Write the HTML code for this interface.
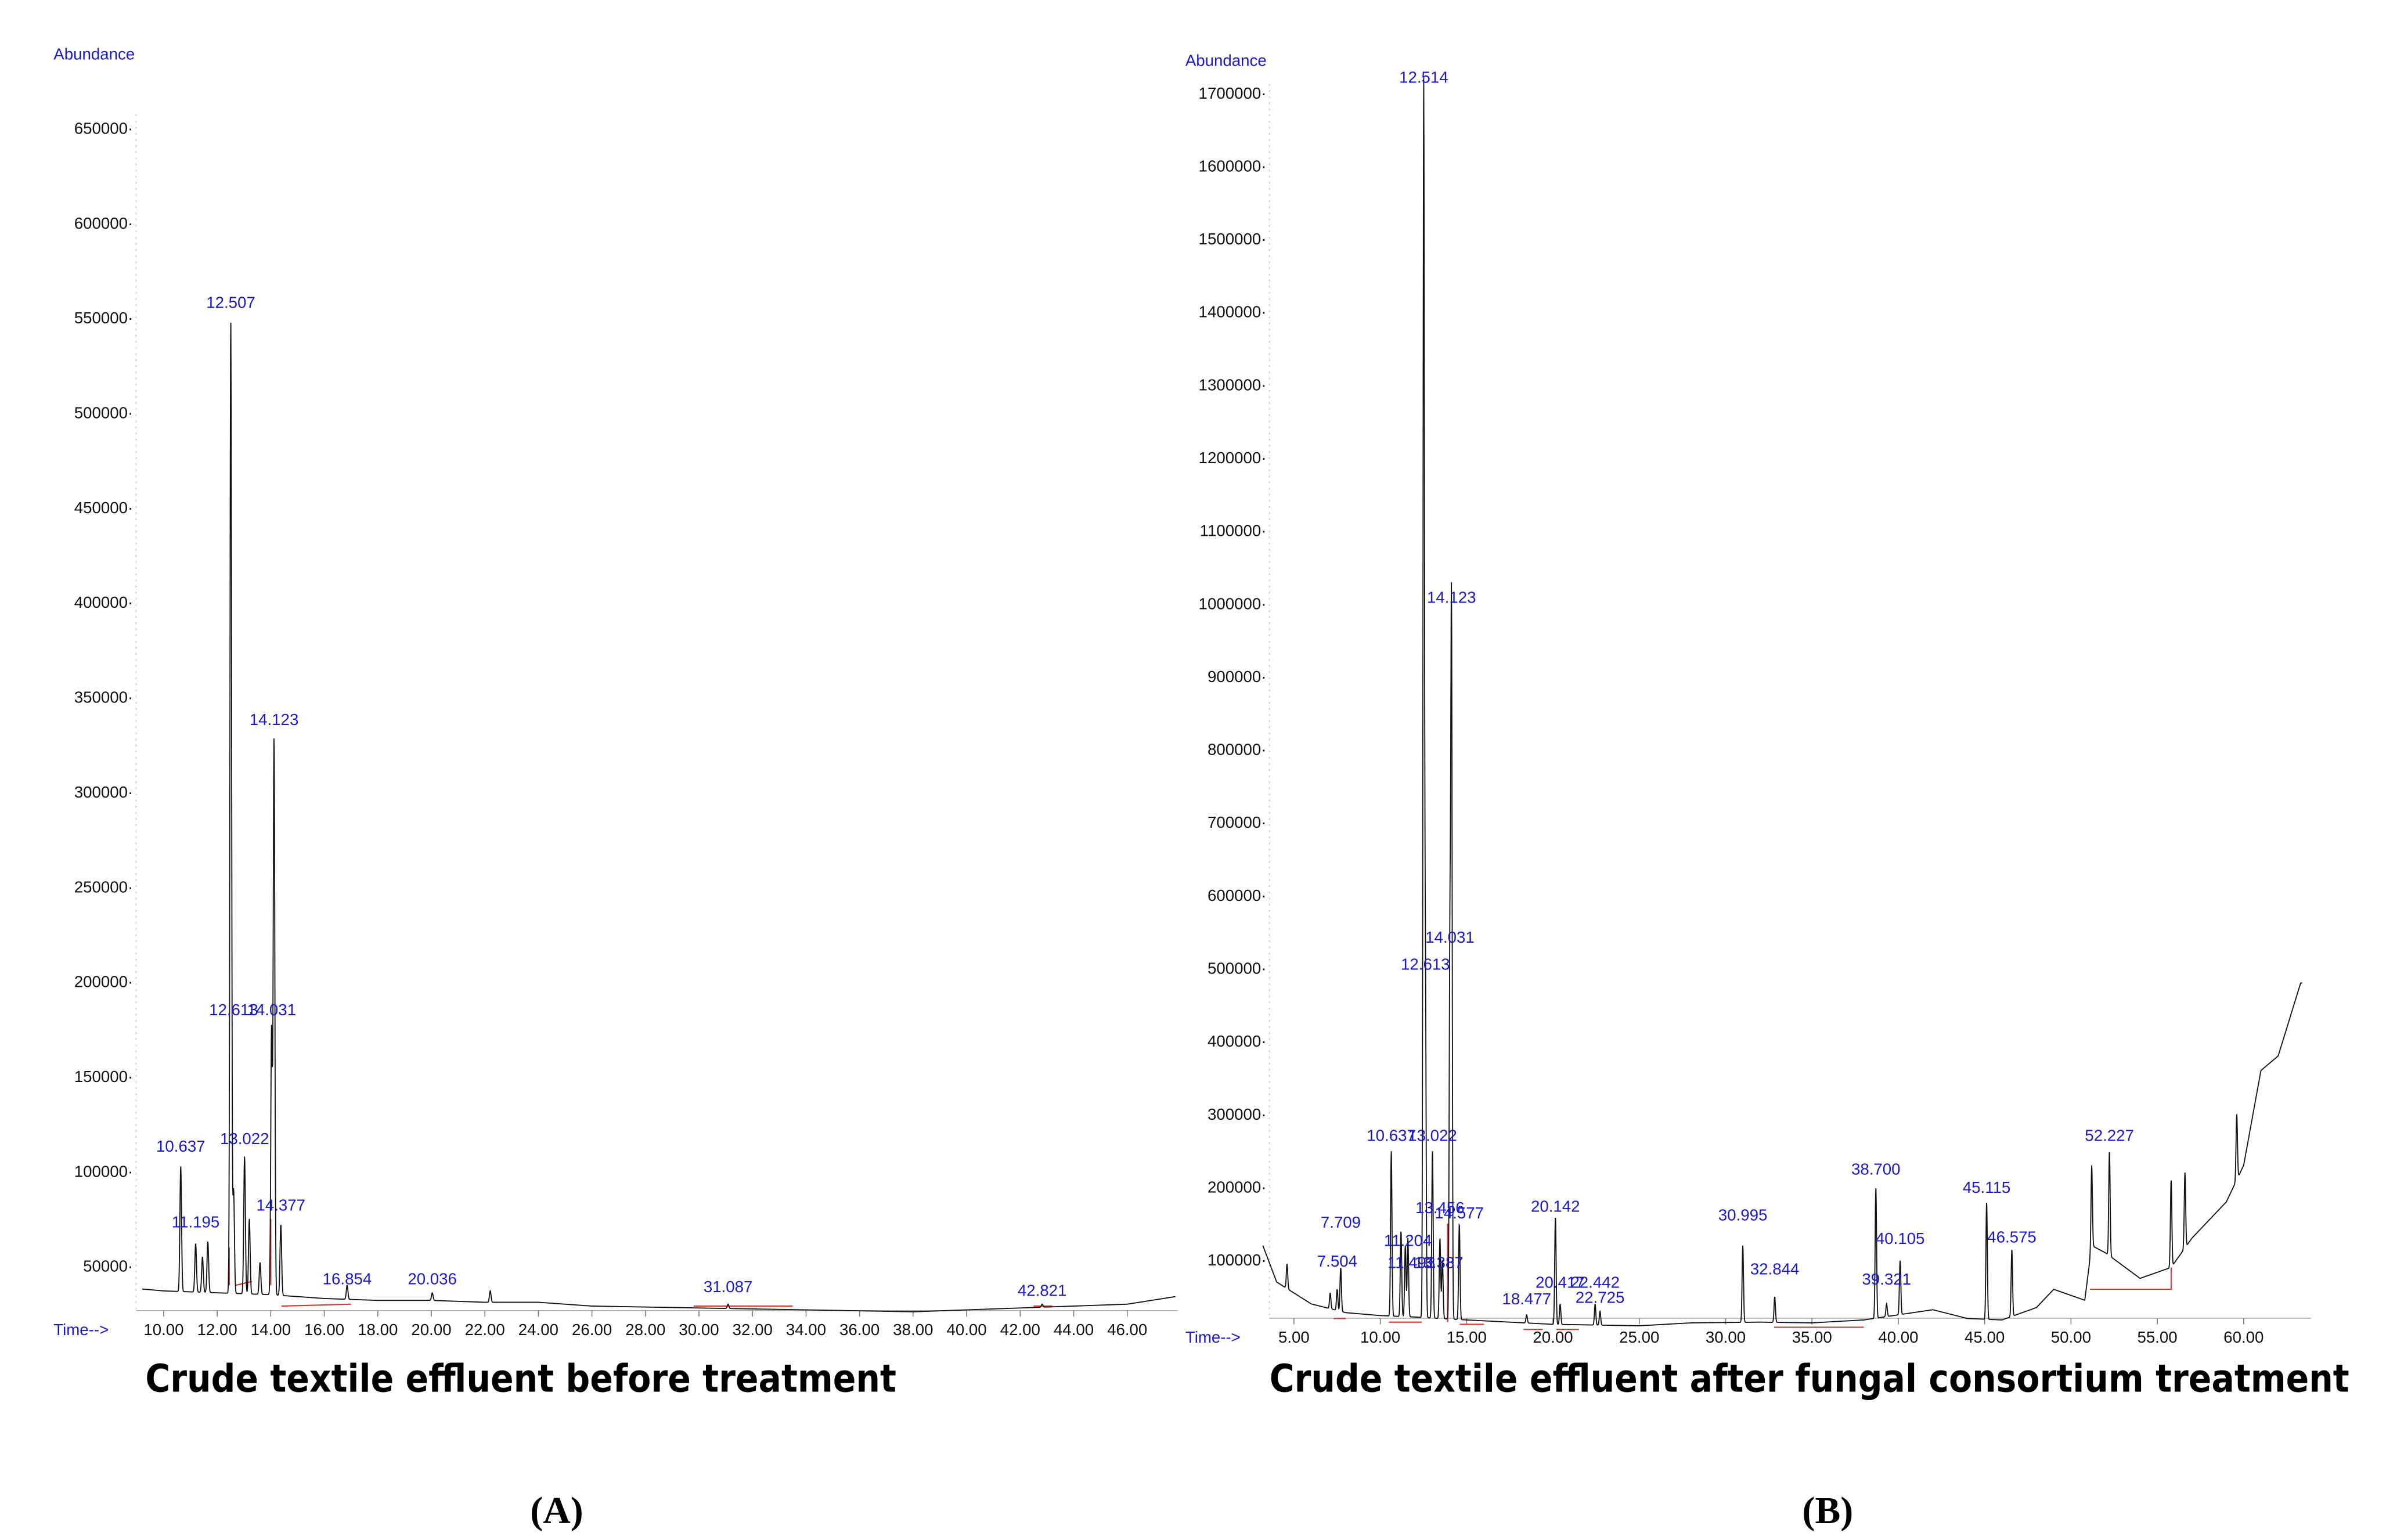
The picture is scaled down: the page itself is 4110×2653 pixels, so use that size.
<!DOCTYPE html>
<html><head><meta charset="utf-8"><style>
html,body{margin:0;padding:0;background:#fff;}
svg{display:block;}
.tick{font-family:"Liberation Sans",sans-serif;font-size:10.5px;fill:#111;}
.lab{font-family:"Liberation Sans",sans-serif;font-size:10.5px;fill:#1a1acc;}
.ttl{font-family:"DejaVu Sans","Liberation Sans",sans-serif;font-size:25px;font-weight:bold;fill:#000;}
.pan{font-family:"Liberation Serif",serif;font-size:25px;font-weight:bold;fill:#000;}
</style></head><body>
<svg id="fig" width="4110" height="2653" viewBox="0 0 1560 1007" xmlns="http://www.w3.org/2000/svg">
<g id="chartA"></g>
<g id="chartB"></g>
<text class="ttl" x="95" y="910" textLength="491" lengthAdjust="spacingAndGlyphs">Crude textile effluent before treatment</text>
<text class="ttl" x="830" y="910" textLength="706" lengthAdjust="spacingAndGlyphs">Crude textile effluent after fungal consortium treatment</text>
<text class="pan" x="364" y="996" text-anchor="middle">(A)</text>
<text class="pan" x="1195" y="996" text-anchor="middle">(B)</text>
</svg>
<script>
// ---- Chart A data ----
const aTicksX = [10,12,14,16,18,20,22,24,26,28,30,32,34,36,38,40,42,44,46];
const aTicksY = [50000,100000,150000,200000,250000,300000,350000,400000,450000,500000,550000,600000,650000];
const aBaseT = [9.2,10,12,14,16,18,20,22,24,26,30,34,38,42,46,47.8];
const aBaseV = [38000,37000,36000,35000,33000,32000,32000,31000,31000,29000,28000,27000,26000,28000,30000,34000];
const aPeakT = [10.637,11.195,11.45,11.65,12.507,12.613,13.022,13.2,13.6,14.031,14.123,14.377,16.854,20.036,22.2,31.087,42.821];
const aPeakV = [103000,62000,55000,63000,550000,90000,108000,75000,52000,175000,328000,72000,40000,36000,37000,30000,30000];
const aLabels = ["10.637","11.195","12.507","12.613","13.022","14.031","14.123","14.377","16.854","20.036","31.087","42.821"];
const aLabelT = [10.637,11.195,12.507,12.613,13.022,14.031,14.123,14.377,16.854,20.036,31.087,42.821];
const aLabelV = [108000,68000,553000,180000,112000,180000,333000,77000,38000,38000,34000,32000];
// ---- Chart B data ----
const bTicksX = [5,10,15,20,25,30,35,40,45,50,55,60];
const bTicksY = [100000,200000,300000,400000,500000,600000,700000,800000,900000,1000000,1100000,1200000,1300000,1400000,1500000,1600000,1700000];
const bBaseT = [3.2,4,5,6,8,10,12,15,20,25,28,32,35,38,40,42,44,46,48,49,50.8,51.2,52,54,55.8,57,59,60,61,62,63.3];
const bBaseV = [120000,70000,55000,40000,28000,24000,22000,18000,12000,10000,14000,15000,14000,18000,25000,32000,20000,18000,35000,60000,45000,120000,110000,75000,90000,130000,180000,230000,360000,380000,480000];
const bPeakT = [4.6,7.1,7.504,7.709,10.637,11.2,11.45,11.6,12.514,12.613,13.022,13.456,13.6,14.031,14.123,14.577,18.477,20.142,20.417,22.442,22.725,30.995,32.844,38.7,39.321,40.105,45.115,46.575,51.2,52.227,55.8,56.6,59.6];
const bPeakV = [95000,55000,60000,90000,250000,140000,120000,130000,1700000,480000,250000,130000,100000,520000,990000,150000,25000,160000,40000,40000,30000,120000,50000,200000,40000,100000,180000,115000,230000,250000,210000,220000,300000];
const bLabels = ["7.709","7.504","11.204","11.493","10.637","13.022","12.514","12.613","14.031","14.123","13.456","14.577","13.387","18.477","20.142","20.417","22.442","22.725","30.995","32.844","38.700","39.321","40.105","45.115","46.575","52.227"];
const bLabelT = [7.709,7.504,11.6,11.8,10.637,13.022,12.514,12.613,14.031,14.123,13.456,14.577,13.387,18.477,20.142,20.417,22.442,22.725,30.995,32.844,38.700,39.321,40.105,45.115,46.575,52.227];
const bLabelV = [138000,85000,113000,83000,257000,257000,1708000,492000,529000,995000,158000,151000,83000,33000,160000,56000,56000,35000,148000,74000,211000,60000,116000,186000,118000,257000];

const NS = "http://www.w3.org/2000/svg";
function mk(parent, tag, attrs){const e=document.createElementNS(NS,tag);for(const k in attrs)e.setAttribute(k,attrs[k]);parent.appendChild(e);return e;}
function interp(ts,vs,t){if(t<=ts[0])return vs[0];for(let i=1;i<ts.length;i++){if(t<=ts[i]){const f=(t-ts[i-1])/(ts[i]-ts[i-1]);return vs[i-1]+f*(vs[i]-vs[i-1]);}}return vs[vs.length-1];}

function draw(cfg){
  const g=document.getElementById(cfg.id);
  const X=t=>cfg.x0+(t-cfg.t0)*cfg.xs;
  const Y=v=>cfg.y0-(v-cfg.v0)*cfg.ys;
  let e=mk(g,'line',{x1:cfg.axX,y1:cfg.top,x2:cfg.axX,y2:cfg.axY,stroke:'#bbb','stroke-width':0.6,'stroke-dasharray':'1 3'});
  
  e=mk(g,'line',{x1:cfg.axX,y1:cfg.axY,x2:cfg.right,y2:cfg.axY,stroke:'#aaa','stroke-width':0.6});
  
  e=mk(g,'text',{x:cfg.abX,y:cfg.abY,class:'lab','font-size':9});e.textContent='Abundance';
  
  e=mk(g,'text',{x:cfg.tmX,y:cfg.axY+16,class:'lab','font-size':9.5});e.textContent='Time-->';
  
  cfg.ticksY.forEach(v=>{
    const t=mk(g,'text',{x:cfg.axX-2,y:Y(v)+3.5,class:'tick','text-anchor':'end'});t.textContent=v+'·';
    
  });
  cfg.ticksX.forEach(v=>{
    const t=mk(g,'text',{x:X(v),y:cfg.axY+16,class:'tick','text-anchor':'middle'});t.textContent=v.toFixed(2);
    
    const l=mk(g,'line',{x1:X(v),y1:cfg.axY,x2:X(v),y2:cfg.axY+4,stroke:'#777','stroke-width':0.6});
    
  });
  cfg.red.forEach(r=>{
    const p=mk(g,'polyline',{points:r.map(q=>X(q[0])+','+Y(q[1])).join(' '),fill:'none',stroke:'#e03030','stroke-width':0.8});
    
  });
  const pts=[];
  for(let t=cfg.tMin;t<=cfg.tMax;t+=cfg.step){
    let v=interp(cfg.baseT,cfg.baseV,t);
    for(let i=0;i<cfg.peakT.length;i++){const b=interp(cfg.baseT,cfg.baseV,cfg.peakT[i]);const h=cfg.peakV[i]-b;const d=(t-cfg.peakT[i])/cfg.sig;if(Math.abs(d)<6)v+=Math.max(h,0)*Math.exp(-d*d/2);}
    pts.push(X(t).toFixed(2)+','+Y(v).toFixed(2));
  }
  const path=mk(g,'polyline',{points:pts.join(' '),fill:'none',stroke:'#111','stroke-width':0.7});
  
  cfg.labels.forEach((s,i)=>{
    const t=mk(g,'text',{x:X(cfg.labelT[i]),y:Y(cfg.labelV[i])-3,class:'lab','text-anchor':'middle'});t.textContent=s;
    
  });
}
draw({id:'chartA',x0:107,t0:10,xs:17.5,y0:828,v0:50000,ys:62/50000,axX:89,axY:857,top:75,right:770,abX:35,abY:39,tmX:35,
  ticksX:aTicksX,ticksY:aTicksY,baseT:aBaseT,baseV:aBaseV,peakT:aPeakT,peakV:aPeakV,labels:aLabels,labelT:aLabelT,labelV:aLabelV,
  tMin:9.2,tMax:47.8,step:0.01,sig:0.03,
  red:[[[12.45,40000],[12.45,60000]],[[12.7,40000],[13.3,42000]],[[14.0,40000],[14.0,75000]],[[14.4,29000],[17.0,30000]],[[29.8,29000],[33.5,29000]],[[42.5,29000],[43.2,29000]]]});
draw({id:'chartB',x0:846,t0:5,xs:11.29,y0:824,v0:100000,ys:47.69/100000,axX:830,axY:862,top:55,right:1511,abX:775,abY:43,tmX:775,
  ticksX:bTicksX,ticksY:bTicksY,baseT:bBaseT,baseV:bBaseV,peakT:bPeakT,peakV:bPeakV,labels:bLabels,labelT:bLabelT,labelV:bLabelV,
  tMin:3.2,tMax:63.4,step:0.015,sig:0.04,
  red:[[[7.3,20000],[8.0,20000]],[[10.5,15000],[12.4,15000]],[[13.9,15000],[13.9,150000]],[[14.6,12000],[16,12000]],[[18.3,5000],[19.4,5000]],[[20.2,5000],[21.5,5000]],[[32.8,8000],[38,8000]],[[51.1,60000],[55.8,60000],[55.8,90000]]]});
</script>
</body></html>
